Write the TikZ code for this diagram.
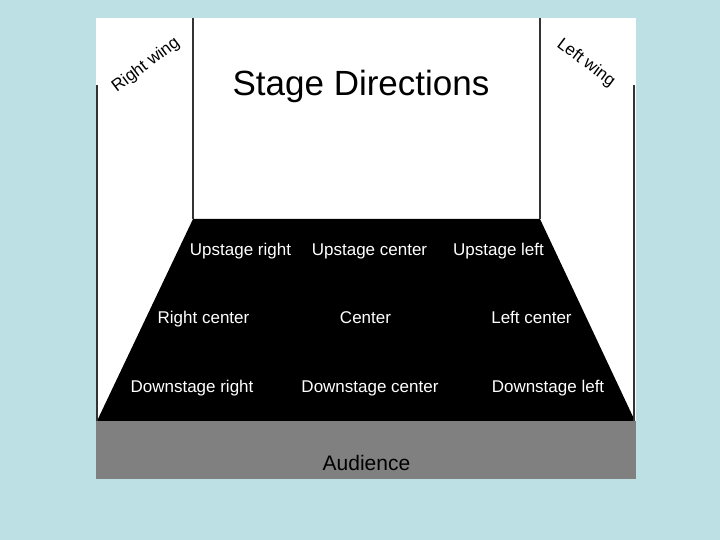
\documentclass[tikz,border=0pt]{standalone}
\usepackage{fontspec}
\setmainfont{Liberation Sans}
\definecolor{sea}{HTML}{BDE0E4}
\definecolor{pit}{HTML}{808080}
\definecolor{rail}{HTML}{333333}
\begin{document}
\begin{tikzpicture}[x=1pt, y=-1pt]
    \tikzstyle{spot}=[text=white, anchor=base, inner sep=0pt, font=\fontsize{17}{20}\selectfont]
    \tikzstyle{wing}=[inner sep=0pt, font=\fontsize{17}{20}\selectfont]
    \fill[sea] (0,0) rectangle (720,540);
    \fill[white] (96,18) rectangle (636,479);
    % the stage floor
    \fill[black] (193,219) -- (540,219) -- (635,421) -- (97,421) -- cycle;
    \fill[pit] (96,421) rectangle (636,479);
    \draw[rail, line width=1.2pt] (193,18) -- (193,219) (540,18) -- (540,219);
    \draw[rail, line width=1.2pt] (97,85) -- (97,421) (634,85) -- (634,421);
    \node[anchor=base, inner sep=0pt, font=\fontsize{35}{40}\selectfont] (title) at (361,96) {Stage Directions};
    \node[wing, rotate=37] (rwing) at (146,65) {Right wing};
    \node[wing, rotate=-37] (lwing) at (586,63) {Left wing};
    \node[spot] (usr) at (240.5,255) {Upstage right};
    \node[spot] (usc) at (369.5,255) {Upstage center};
    \node[spot] (usl) at (498.5,255) {Upstage left};
    \node[spot] (rc) at (203.5,323) {Right center};
    \node[spot] (c) at (365.5,323) {Center};
    \node[spot] (lc) at (531.5,323) {Left center};
    \node[spot] (dsr) at (192,392) {Downstage right};
    \node[spot] (dsc) at (370,392) {Downstage center};
    \node[spot] (dsl) at (548,392) {Downstage left};
    \node[anchor=base, inner sep=0pt, font=\fontsize{21}{24}\selectfont] (aud) at (366.5,470) {Audience};
\end{tikzpicture}
\end{document}
